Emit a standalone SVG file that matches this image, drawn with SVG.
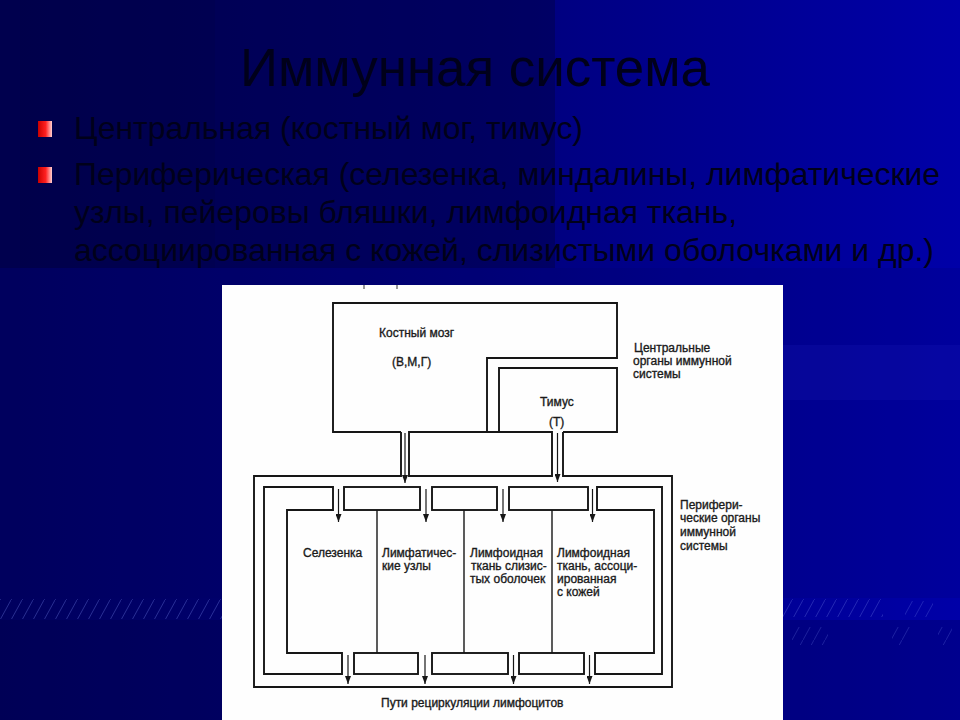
<svg xmlns="http://www.w3.org/2000/svg" width="960" height="720" viewBox="0 0 960 720">
<defs>
<linearGradient id="bgGrad" x1="0" y1="0" x2="1" y2="0">
<stop offset="0" stop-color="#00005e"/>
<stop offset="0.5" stop-color="#00007a"/>
<stop offset="1" stop-color="#0000a8"/>
</linearGradient>
<linearGradient id="bulletGrad" x1="0" y1="0" x2="1" y2="0">
<stop offset="0" stop-color="#c80000"/>
<stop offset="0.55" stop-color="#ff2020"/>
<stop offset="1" stop-color="#ffd0d0"/>
</linearGradient>
<pattern id="hatch" width="11" height="20" patternUnits="userSpaceOnUse">
<line x1="0" y1="20" x2="11" y2="0" stroke="#7080e8" stroke-width="0.9"/>
</pattern>
<marker id="arrow" markerWidth="8" markerHeight="6" refX="8" refY="3" orient="auto" markerUnits="userSpaceOnUse">
<path d="M0,0 L8,3 L0,6 z" fill="#161616"/>
</marker>
</defs>
<style>
.title{font-family:"Liberation Sans",Arial,sans-serif;font-size:53px;fill:#00001a}
.bul{font-family:"Liberation Sans",Arial,sans-serif;font-size:32px;fill:#00001a}
.lbl{font-family:"Liberation Sans",Arial,sans-serif;font-size:12px;fill:#1a1a1a;stroke:#1a1a1a;stroke-width:0.35}
.ln{fill:none;stroke:#161616;stroke-width:1.9;stroke-linejoin:miter}
.dv{stroke:#161616;stroke-width:1.4}
.ar{stroke:#161616;stroke-width:1.2;marker-end:url(#arrow)}
</style>

<g id="background">
<rect width="960" height="720" fill="url(#bgGrad)"/>
<rect x="0" y="0" width="555" height="268" fill="#000030" opacity="0.35"/>
<rect x="20" y="0" width="195" height="268" fill="#000030" opacity="0.12"/>
<rect x="0" y="268" width="960" height="330" fill="#000060" opacity="0.15"/>
<rect x="783" y="345" width="177" height="55" fill="#2020c0" opacity="0.18"/>
<rect x="0" y="620" width="960" height="100" fill="#000040" opacity="0.25"/>
<rect x="0" y="599" width="222" height="20" fill="url(#hatch)" opacity="0.4"/>
<rect x="783" y="599" width="100" height="18" fill="url(#hatch)" opacity="0.35"/>
<rect x="905" y="601" width="28" height="16" fill="url(#hatch)" opacity="0.3"/>
<rect x="792" y="627" width="36" height="18" fill="url(#hatch)" opacity="0.28"/>
<rect x="892" y="627" width="18" height="18" fill="url(#hatch)" opacity="0.28"/>
<rect x="938" y="627" width="14" height="18" fill="url(#hatch)" opacity="0.28"/>
</g>

<g id="title">
<text class="title" x="240" y="86" textLength="470" lengthAdjust="spacingAndGlyphs">Иммунная система</text>
</g>

<g id="bullets">
<rect x="38" y="121" width="14" height="16" fill="url(#bulletGrad)"/>
<rect x="38" y="167" width="14" height="16" fill="url(#bulletGrad)"/>
<text class="bul" x="74" y="139" textLength="509" lengthAdjust="spacingAndGlyphs">Центральная (костный мог, тимус)</text>
<text class="bul" x="74" y="185" textLength="866" lengthAdjust="spacingAndGlyphs">Периферическая (селезенка, миндалины, лимфатические</text>
<text class="bul" x="74" y="223" textLength="663" lengthAdjust="spacingAndGlyphs">узлы, пейеровы бляшки, лимфоидная ткань,</text>
<text class="bul" x="74" y="261" textLength="860" lengthAdjust="spacingAndGlyphs">ассоциированная с кожей, слизистыми оболочками и др.)</text>
</g>

<g id="panel">
<rect x="222" y="285" width="561" height="435" fill="#fefefe"/>
<line x1="364" y1="285" x2="364" y2="289" stroke="#333" stroke-width="1"/>
<line x1="397" y1="285" x2="397" y2="289" stroke="#333" stroke-width="1"/>
</g>

<g id="bone-marrow">
<path class="ln" d="M401,432 H333 V303 H617 V358 H487 V432"/>
<text class="lbl" x="379" y="337">Костный мозг</text>
<text class="lbl" x="392" y="366">(В,М,Г)</text>
</g>

<g id="thymus">
<path class="ln" d="M552,432 H499 V368 H617 V432 H563"/>
<text class="lbl" x="540" y="406">Тимус</text>
<text class="lbl" x="549" y="426">(Т)</text>
</g>

<g id="central-label">
<text class="lbl" x="634" y="352">Центральные</text>
<text class="lbl" x="633" y="365">органы иммунной</text>
<text class="lbl" x="633" y="378">системы</text>
</g>

<g id="peripheral-label">
<text class="lbl" x="680" y="509">Перифери-</text>
<text class="lbl" x="680" y="522">ческие органы</text>
<text class="lbl" x="680" y="536">иммунной</text>
<text class="lbl" x="680" y="550">системы</text>
</g>

<g id="left-bracket">
<path class="ln" d="M333,487 H264 V674 H342 V653 H287 V510 H333 Z"/>
</g>
<g id="right-bracket">
<path class="ln" d="M597,487 H662 V674 H595 V653 H654 V510 H597 Z"/>
</g>

<g id="top-blocks">
<rect class="ln" x="344" y="487" width="76" height="23"/>
<rect class="ln" x="432" y="487" width="65" height="23"/>
<rect class="ln" x="509" y="487" width="79" height="23"/>
</g>
<g id="bottom-blocks">
<rect class="ln" x="354" y="653" width="64" height="21"/>
<rect class="ln" x="432" y="653" width="76" height="21"/>
<rect class="ln" x="519" y="653" width="65" height="21"/>
</g>

<g id="spleen">
<text class="lbl" x="303" y="557">Селезенка</text>
</g>
<g id="lymph-nodes">
<line class="dv" x1="377" y1="510" x2="377" y2="653"/>
<text class="lbl" x="382" y="557">Лимфатичес-</text>
<text class="lbl" x="382" y="570">кие узлы</text>
</g>
<g id="mucosal-tissue">
<line class="dv" x1="464" y1="510" x2="464" y2="653"/>
<text class="lbl" x="470" y="557">Лимфоидная</text>
<text class="lbl" x="471" y="570">ткань слизис-</text>
<text class="lbl" x="470" y="583">тых оболочек</text>
</g>
<g id="skin-tissue">
<line class="dv" x1="552" y1="510" x2="552" y2="653"/>
<text class="lbl" x="557" y="557">Лимфоидная</text>
<text class="lbl" x="557" y="570">ткань, ассоци-</text>
<text class="lbl" x="557" y="583">ированная</text>
<text class="lbl" x="557" y="596">с кожей</text>
</g>

<g id="recirculation-label">
<text class="lbl" x="381" y="707">Пути рециркуляции лимфоцитов</text>
</g>

<g id="connectors">
<path class="ln" d="M401,432 V476 H254 V687 H672 V476 H563 V432"/>
<path class="ln" d="M409,476 V432 H552 V476 Z"/>
<line class="ar" x1="405" y1="433" x2="405" y2="483"/>
<line class="ar" x1="557.5" y1="433" x2="557.5" y2="482"/>
<line class="ar" x1="338.5" y1="489" x2="338.5" y2="522"/>
<line class="ar" x1="426" y1="489" x2="426" y2="522"/>
<line class="ar" x1="503" y1="489" x2="503" y2="522"/>
<line class="ar" x1="592.5" y1="489" x2="592.5" y2="522"/>
<line class="ar" x1="348" y1="655" x2="348" y2="684"/>
<line class="ar" x1="425" y1="655" x2="425" y2="684"/>
<line class="ar" x1="513.5" y1="655" x2="513.5" y2="684"/>
<line class="ar" x1="589.5" y1="655" x2="589.5" y2="684"/>
</g>
</svg>
